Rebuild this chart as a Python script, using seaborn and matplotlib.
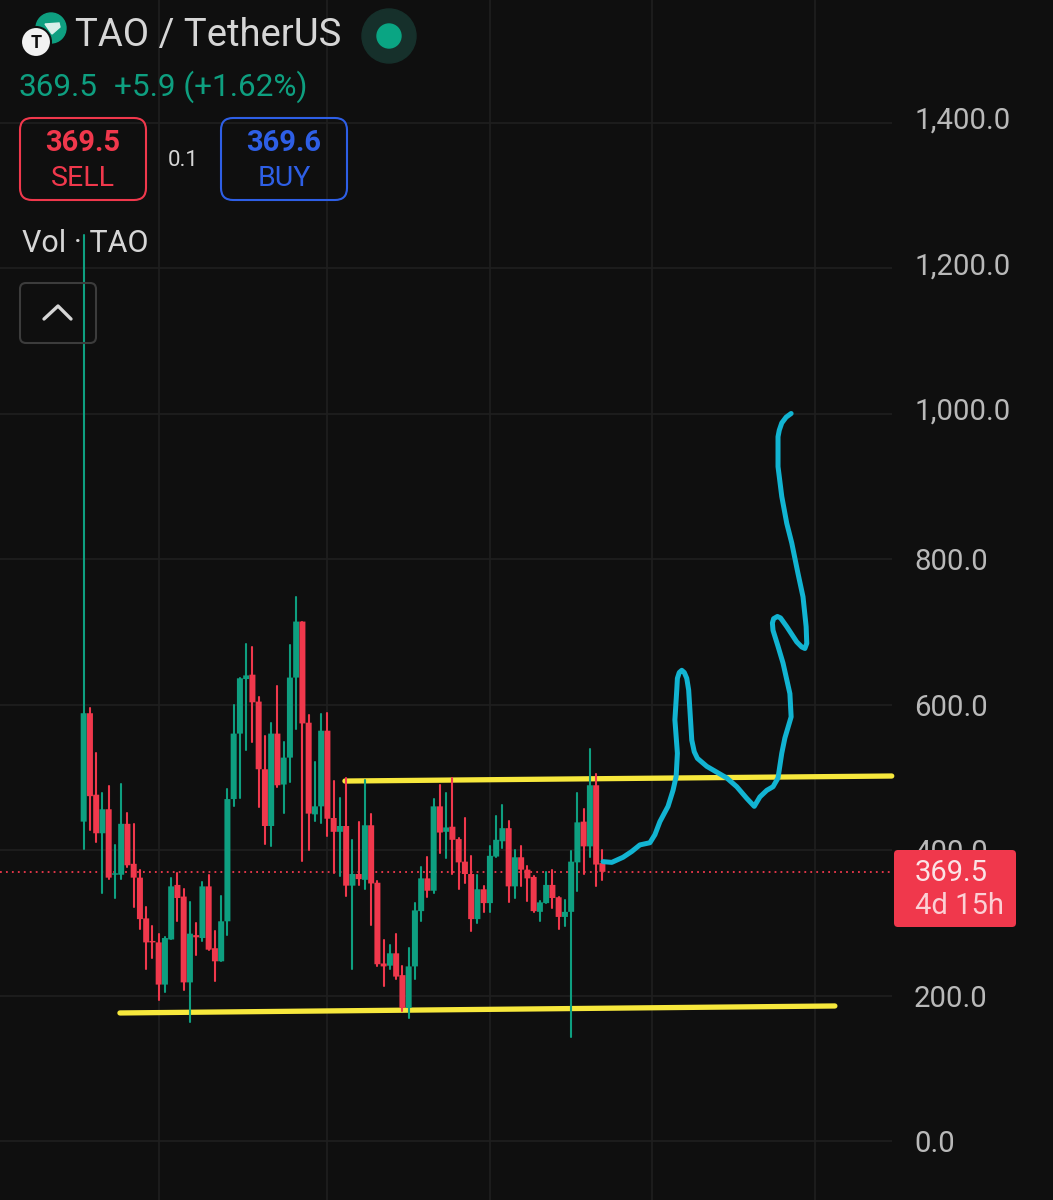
import numpy as np
import pandas as pd
import seaborn as sns
import matplotlib.pyplot as plt
from matplotlib.patches import Circle, FancyBboxPatch, Polygon
from matplotlib.transforms import ScaledTranslation

# candles, in price units
opens = [439, 588, 476, 423, 456, 366, 366, 436, 381, 362, 306, 275, 273, 215, 277, 352, 336, 218, 283, 279, 350, 265,
         247, 302, 470, 560, 635, 641, 604, 511, 433, 560, 490, 527, 637, 714, 575, 449, 460, 564, 444, 425, 433, 351,
         367, 359, 434, 355, 244, 241, 258, 228, 183, 240, 316, 361, 344, 460, 425, 432, 415, 384, 367, 305, 346, 327,
         391, 412, 430, 350, 390, 373, 363, 315, 327, 352, 335, 308, 315, 383, 439, 405, 489, 382]
closes = [588, 474, 423, 456, 362, 368, 436, 379, 362, 305, 273, 273, 215, 279, 350, 334, 218, 285, 280, 350, 263, 247,
          302, 470, 560, 636, 640, 603, 511, 433, 560, 489, 527, 637, 714, 574, 450, 460, 564, 443, 425, 433, 351, 367,
          360, 434, 354, 243, 240, 258, 226, 183, 240, 317, 361, 344, 460, 424, 431, 414, 383, 367, 305, 346, 327, 392,
          414, 430, 350, 390, 373, 361, 316, 328, 352, 334, 308, 315, 384, 438, 405, 489, 380, 370]
highs = [1245, 595, 533, 479, 488, 407, 491, 451, 436, 373, 322, 296, 285, 280, 361, 368, 347, 329, 299, 356, 365, 288,
         337, 484, 599, 637, 683, 679, 611, 557, 575, 625, 548, 682, 748, 714, 586, 521, 587, 589, 495, 471, 499, 414,
         438, 496, 450, 357, 276, 269, 285, 240, 265, 327, 376, 391, 470, 489, 479, 499, 416, 444, 392, 365, 350, 405,
         447, 462, 440, 400, 406, 378, 364, 330, 370, 373, 336, 331, 399, 479, 456, 539, 505, 400]
lows = [402, 427, 411, 341, 360, 334, 360, 377, 321, 291, 236, 252, 194, 205, 277, 302, 208, 164, 255, 275, 263, 220,
        247, 283, 460, 472, 537, 549, 459, 408, 405, 486, 451, 493, 566, 385, 400, 440, 437, 419, 369, 364, 337, 236,
        352, 346, 297, 240, 213, 236, 222, 179, 169, 223, 302, 335, 341, 396, 389, 367, 347, 354, 289, 299, 315, 315,
        391, 403, 328, 334, 351, 330, 315, 302, 327, 320, 291, 296, 143, 343, 367, 390, 351, 359]

price_ticks = [0, 200, 400, 600, 800, 1000, 1200, 1400]
time_grid = [12, 39, 65, 91, 117]
last_price = 369.5

# hand drawn lines on the chart
upper_x = [41.8, 129.3]
upper_y = [494.8, 501.7]
lower_x = [5.8, 120.2]
lower_y = [176, 185.6]
stroke_x = [83.1, 84.5, 86.3, 87.7, 89.0, 90.6, 91.4, 92.2, 93.5, 94.3, 94.8, 95.0, 94.6, 94.9, 95.0, 95.3, 95.7,
            96.1, 96.5, 96.8, 97.1, 97.3, 97.7, 98.2, 99.7, 102.9, 104.5, 106.1, 107.3, 108.2, 109.3, 110.3, 111.1,
            111.7, 112.2, 113.2, 113.0, 111.9, 111.1, 110.3, 110.2, 110.4, 111.0, 111.5, 112.5, 114.1, 114.9, 115.4,
            115.7, 115.6, 115.1, 114.3, 113.3, 112.5, 111.7, 111.1, 111.1, 111.3, 111.7, 112.4, 113.2]
stroke_y = [384, 383, 390, 398, 407, 410, 421, 439, 460, 482, 501, 533, 579, 620, 636, 644, 647, 644, 636, 620, 579,
            551, 535, 526, 515, 499, 487, 471, 460, 473, 482, 487, 499, 533, 554, 583, 615, 657, 680, 702, 712, 718,
            721, 719, 707, 686, 679, 677, 684, 707, 748, 780, 822, 849, 886, 927, 968, 977, 987, 995, 1000]

BG = "#0f0f0f"
GRID = "#1f1f1f"
GREEN = "#0e9f80"
RED = "#f0384c"
BLUE = "#2e5fe6"
YELLOW = "#f7e83c"
CYAN = "#12b4d2"
LABEL = "#b9b9b9"

sns.set_theme(style="dark", rc={"axes.facecolor": BG, "figure.facecolor": BG, "savefig.facecolor": BG})
plt.rcParams["font.family"] = ["Roboto", "DejaVu Sans"]

df = pd.DataFrame({"open": opens, "close": closes, "high": highs, "low": lows})
df["idx"] = np.arange(len(df))
df["up"] = df["close"] >= df["open"]
df["top"] = df[["open", "close"]].max(axis=1)
df["bottom"] = df[["open", "close"]].min(axis=1)
df["body"] = df["top"] - df["bottom"]

wicks = df.melt(id_vars=["idx", "up"], value_vars=["high", "low"], value_name="price")

fig = plt.figure(figsize=(10.53, 12), dpi=100)
ax = fig.add_axes([0, 0, 1, 1])

sns.lineplot(data=wicks, x="idx", y="price", units="idx", estimator=None, hue="up", sort=False,
             palette={True: GREEN, False: RED}, linewidth=1.5, legend=False, ax=ax, zorder=3)
for up, color in [(True, GREEN), (False, RED)]:
    part = df[df["up"] == up]
    sns.barplot(data=part, x="idx", y="body", bottom=part["bottom"].values, native_scale=True, color=color,
                saturation=1, width=0.96, linewidth=0, errorbar=None, snap=False, ax=ax, zorder=3)

ax.set_xlim(-13.39, 155.1)
ax.set_ylim(-81.1, 1568.4)
x_end = 129.3

ax.hlines(price_ticks, -13.39, x_end, color=GRID, linewidth=1.2, zorder=1)
ax.vlines(time_grid, -81.1, 1568.4, color=GRID, linewidth=1.2, zorder=1)
ax.hlines(last_price, -13.39, x_end, color=RED, linewidth=1.3, linestyles=(0, (1, 2.3)), zorder=2)

sns.lineplot(x=upper_x, y=upper_y, color=YELLOW, linewidth=3.8, ax=ax, zorder=2.5, solid_capstyle="round")
sns.lineplot(x=lower_x, y=lower_y, color=YELLOW, linewidth=3.8, ax=ax, zorder=2.5, solid_capstyle="round")
sns.lineplot(x=stroke_x, y=stroke_y, color=CYAN, linewidth=3.6, sort=False, estimator=None, ax=ax, zorder=4,
             solid_capstyle="round", solid_joinstyle="round")

ax.set_xticks([])
ax.set_yticks(price_ticks)
ax.set_yticklabels([f"{v:,.1f}" for v in price_ticks])
ax.yaxis.tick_right()
ax.tick_params(axis="y", length=0, pad=-100, labelsize=21.2, labelcolor=LABEL)
# upper labels sit a bit above their grid lines
for v, tick in zip(price_ticks, ax.get_yticklabels()):
    if v >= 1000:
        tick.set_transform(tick.get_transform() + ScaledTranslation(0, 3.5 / 72, fig.dpi_scale_trans))
ax.set_xlabel("")
ax.set_ylabel("")
ax.grid(False)
sns.despine(ax=ax, left=True, right=True, top=True, bottom=True)

# app chrome on top of the chart, laid out in screen pixels
ui = fig.add_axes([0, 0, 1, 1], zorder=10)
ui.set_xlim(0, 1053)
ui.set_ylim(1200, 0)
ui.axis("off")
ui.patch.set_alpha(0)


def box(x0, y0, x1, y1, edge, face="none", radius=12, lw=1.5):
    ui.add_patch(FancyBboxPatch((x0 + radius, y0 + radius), x1 - x0 - 2 * radius, y1 - y0 - 2 * radius,
                                boxstyle=f"round,pad={radius},rounding_size={radius}",
                                edgecolor=edge, facecolor=face, linewidth=lw))


def label(x, y, s, size, color, ha="left", weight="normal"):
    ui.text(x, y + 2, s, fontsize=size, color=color, ha=ha, va="center", fontweight=weight)


# coin logos
ui.add_patch(Circle((51, 28), 15, color=GREEN))
ui.add_patch(Polygon([(45, 24), (59, 23), (60, 27), (52, 34)], closed=True, color="#d8efe9"))
ui.add_patch(Circle((36, 42), 15, facecolor="#f2f2f2", edgecolor=BG, linewidth=1.5))
ui.text(36, 43, "T", fontsize=13, color="#111111", ha="center", va="center", fontweight="bold")
label(75, 33, "TAO / TetherUS", 27.5, "#d6d6d6")
ui.add_patch(Circle((389, 36), 27, color="#16302b"))
ui.add_patch(Circle((389, 36), 12, color="#0aa583"))

label(19, 85, "369.5", 22.7, GREEN)
label(114, 85, "+5.9 (+1.62%)", 22.7, GREEN)

box(20, 118, 146, 200, RED)
label(83, 141, "369.5", 21, RED, ha="center", weight="bold")
label(83, 176, "SELL", 20.5, RED, ha="center")
label(183, 158, "0.1", 16, "#d6d6d6", ha="center")
box(221, 118, 347, 200, BLUE)
label(284, 141, "369.6", 21, BLUE, ha="center", weight="bold")
label(284, 176, "BUY", 20.5, BLUE, ha="center")

label(22, 241, "Vol · TAO", 22, "#d6d6d6")
box(20, 283, 96, 343, "#3c3c3c", radius=6)
ui.plot([44, 58, 71], [319, 306, 319], color="#d6d6d6", linewidth=2.4)

# last price tag
box(894, 850, 1016, 927, RED, face=RED, radius=4, lw=0)
label(915, 871, "369.5", 21, "#fbe3e6")
label(915, 904, "4d 15h", 21, "#fbd0d5")

fig.savefig("out.png", dpi=100)
